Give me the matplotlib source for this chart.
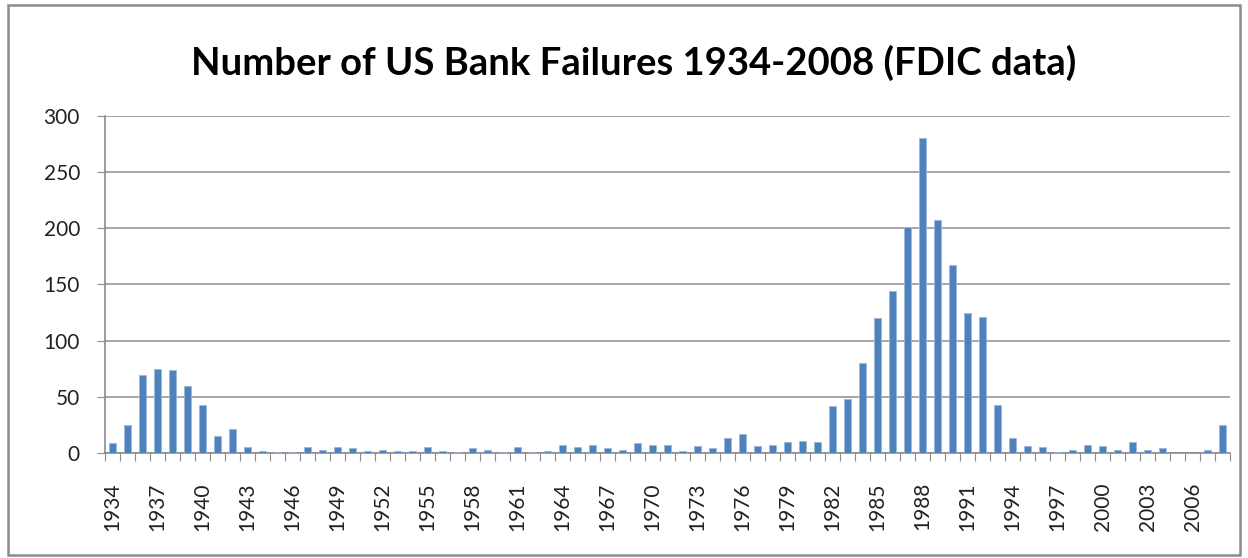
import numpy as np
import matplotlib.pyplot as plt
from matplotlib.patches import Rectangle

years = list(range(1934, 2009))
failures = [9, 25, 69, 75, 74, 60, 43, 15, 21, 5, 2, 1, 1, 5, 3, 5, 4, 2, 3, 2,
            2, 5, 2, 1, 4, 3, 1, 5, 1, 2, 7, 5, 7, 4, 3, 9, 7, 7, 2, 6,
            4, 13, 17, 6, 7, 10, 11, 10, 42, 48, 80, 120, 144, 201, 280, 207, 167, 125, 121, 43,
            13, 6, 5, 1, 3, 7, 6, 3, 10, 3, 4, 0, 0, 3, 25]
label_years = years[::3]

plt.rcParams['font.family'] = ['Lato', 'DejaVu Sans']

fig = plt.figure(figsize=(12.48, 5.58), dpi=100)
# chart border
fig.patches.append(Rectangle((8 / 1248, 3 / 558), 1232 / 1248, 550 / 558, transform=fig.transFigure,
                             fill=False, edgecolor='#8c8c8c', linewidth=1.8))
ax = fig.add_axes([0.0841, 0.1882, 0.9015, 0.6039])

x = np.arange(len(years))
ax.bar(x, failures, width=0.42, color='#4F81BD', edgecolor='#9BB7DA', linewidth=0.6, zorder=3)

ax.set_xlim(-0.5, len(years) - 0.5)
ax.set_ylim(0, 300)
ax.set_yticks(range(0, 301, 50))
ax.yaxis.grid(True, color='#a6a6a6', linewidth=1.4, zorder=0)
ax.tick_params(axis='y', labelsize=15, length=6, color='#8c8c8c', pad=12, labelcolor='#222222')

# ticks at category boundaries, labels every 3 years
ax.set_xticks(np.arange(-0.5, len(years), 1.0))
ax.set_xticklabels([])
ax.tick_params(axis='x', which='major', length=6, color='#8c8c8c', direction='out')
ax.set_xticks([years.index(y) for y in label_years], minor=True)
ax.set_xticklabels([str(y) for y in label_years], minor=True, rotation=90, fontsize=15,
                   color='#222222')
ax.tick_params(axis='x', which='minor', length=0, pad=21)

for s in ['top', 'right']:
    ax.spines[s].set_visible(False)
for s in ['left', 'bottom']:
    ax.spines[s].set_color('#8c8c8c')
    ax.spines[s].set_linewidth(1.2)

fig.text(0.508, 0.888, 'Number of US Bank Failures 1934-2008 (FDIC data)',
         ha='center', va='center', fontsize=27.5, fontweight='bold')

fig.savefig('out.png', dpi=100)
